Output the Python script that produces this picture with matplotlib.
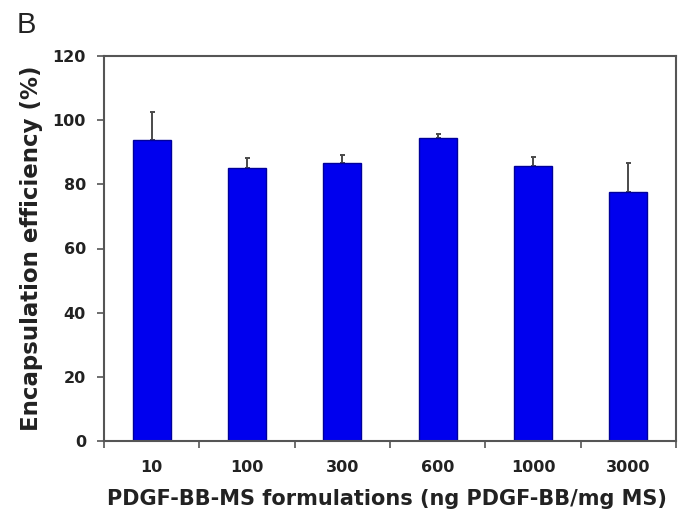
import matplotlib
matplotlib.use("Agg")
import matplotlib.pyplot as plt
import numpy as np

plt.rcParams['font.family'] = ['DejaVu Sans']

categories = ["10", "100", "300", "600", "1000", "3000"]
efficiency = [93.8, 85.0, 86.8, 94.3, 85.7, 77.7]
sd_upper = [8.8, 3.2, 2.3, 1.5, 2.9, 9.1]

fig = plt.figure(figsize=(6.8, 5.19), dpi=100)
ax = fig.add_axes([104 / 680, 1 - 441 / 519, (676 - 104) / 680, (441 - 56) / 519])

x = np.arange(len(categories))
ax.bar(x, efficiency, width=0.4, color="#0000ee", edgecolor="#00009a", linewidth=1.0, zorder=2)
ax.errorbar(x, efficiency, yerr=[np.zeros(len(x)), sd_upper], fmt="none",
            ecolor="#4a4a4a", elinewidth=1.4, capsize=1.8, capthick=1.4, zorder=1)

ax.set_xlim(-0.5, len(categories) - 0.5)
ax.set_ylim(0, 120)
ax.set_yticks(np.arange(0, 121, 20))
ax.set_yticklabels([str(v) for v in range(0, 121, 20)], fontsize=11.5, fontweight="bold",
                   color="#222222")

# category labels centred under bars, tick marks at category boundaries
ax.set_xticks(np.arange(-0.5, len(categories), 1.0))
ax.set_xticklabels([])
ax.set_xticks(x, minor=True)
ax.set_xticklabels(categories, minor=True, fontsize=11.5, fontweight="bold", color="#222222")
ax.tick_params(axis="x", which="minor", length=0, pad=14)
ax.tick_params(axis="x", which="major", length=5, width=1.2, color="#555555", direction="out")
ax.tick_params(axis="y", length=5, width=1.2, color="#555555", direction="out", pad=8)

for s in ax.spines.values():
    s.set_color("#555555")
    s.set_linewidth(1.5)

ax.set_ylabel("Encapsulation efficiency (%)", fontsize=16.5, fontweight="bold",
              color="#222222", labelpad=7)
ax.set_xlabel("PDGF-BB-MS formulations (ng PDGF-BB/mg MS)", fontsize=15.0,
              fontweight="bold", color="#222222", labelpad=10)
ax.xaxis.label.set_x(0.494)

fig.text(17 / 680, 1 - 25 / 519, "B", fontsize=21, ha="left", va="center",
         color="#222222", family="Liberation Sans")

fig.savefig("out.png", dpi=100)
